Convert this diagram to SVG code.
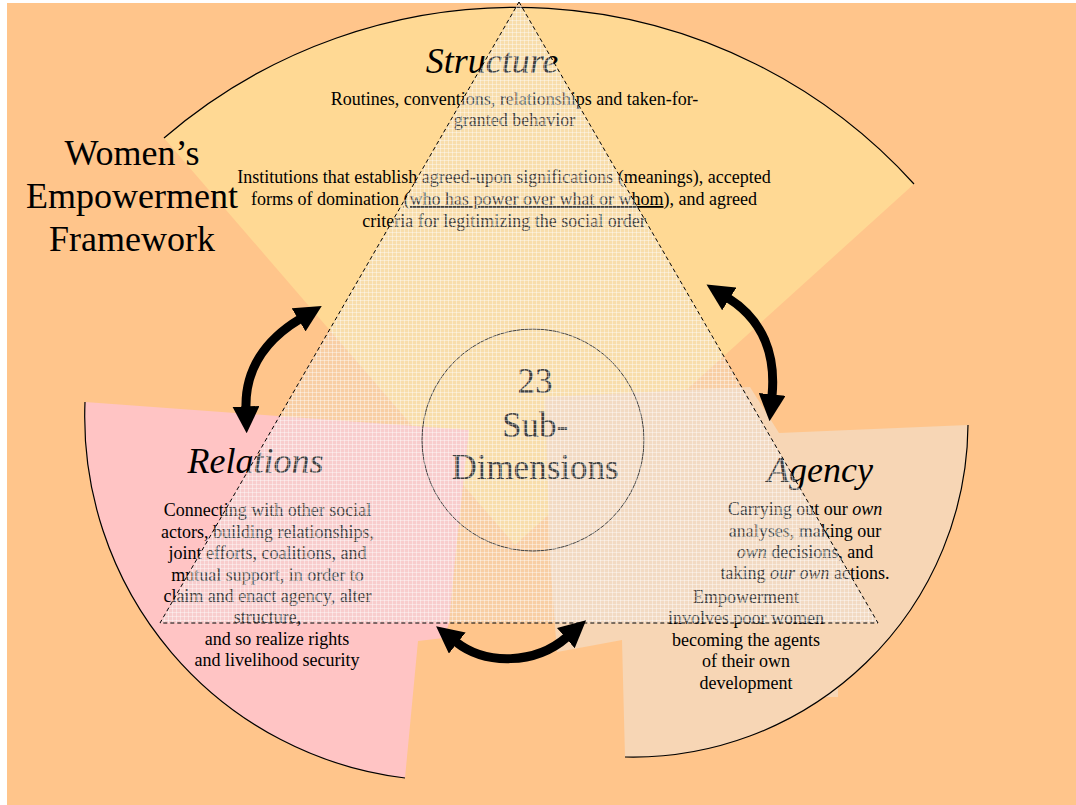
<svg xmlns="http://www.w3.org/2000/svg" width="1076" height="805" viewBox="0 0 1076 805">
  <defs>
    <style>
      text { font-family: 'Liberation Serif', 'DejaVu Serif', serif; fill: #000; }
      .head { font-size: 36px; font-style: italic; text-anchor: middle; }
      .big { font-size: 36px; text-anchor: middle; }
      .body { font-size: 18px; text-anchor: middle; }
      .it { font-style: italic; }
      .rim { fill: none; stroke: #000; stroke-width: 1.2; }
      .twoway { fill: none; stroke: #000; stroke-width: 9; marker-start: url(#head); marker-end: url(#head); }
    </style>
    <marker id="head" viewBox="0 0 10 10" refX="0.6" refY="5" markerWidth="3" markerHeight="3" orient="auto-start-reverse" markerUnits="strokeWidth">
      <path d="M0,0 L10,5 L0,10 Z" fill="#000"/>
    </marker>
    <pattern id="mesh" width="4" height="4" patternUnits="userSpaceOnUse">
      <rect width="4" height="4" fill="#E6E6E6" fill-opacity="0.28"/>
      <path d="M0,0.5H4M0.5,0V4" stroke="#FFFFFF" stroke-opacity="0.4" stroke-width="1"/>
    </pattern>
  </defs>

  <!-- page -->
  <rect x="0" y="0" width="1076" height="805" fill="#FFFFFF"/>
  <rect x="7" y="3" width="1069" height="802" fill="#FFC58B"/>

  <!-- Structure sector -->
  <g id="structure">
    <path d="M515,545 L164,138 A538,538 0 0,1 914,184 Z" fill="#FFD994"/>
    <path class="rim" d="M164,138 A538,538 0 0,1 914,184"/>
  </g>

  <!-- Relations sector -->
  <g id="relations">
    <path d="M469,430 L85,402 A364,364 0 0,0 405,778 L418,641 L444,638 L449,623 L455,560 Z" fill="#FFC4C4"/>
    <path class="rim" d="M85,402 A364,364 0 0,0 405,778"/>
  </g>

  <!-- Agency sector -->
  <g id="agency">
    <path d="M545,397 L750,387 L779,433 L968,425 A335,335 0 0,1 625,757 L622,640 Q590,646 557,652 L550,560 Z" fill="#F7D6B5"/>
    <rect x="655" y="588" width="183" height="109" fill="#F7D6B5"/>
    <path class="rim" d="M968,425 A335,335 0 0,1 625,757"/>
  </g>

  <!-- framework title -->
  <g id="title" font-family="Liberation Serif, serif">
    <text class="big" x="132" y="165">Women’s</text>
    <text class="big" x="132" y="208">Empowerment</text>
    <text class="big" x="132" y="251">Framework</text>
  </g>

  <!-- Structure texts -->
  <g id="structure-text">
    <text class="head" x="492" y="73">Structure</text>
    <text class="body" x="514.5" y="105">Routines, conventions, relationships and taken-for-</text>
    <text class="body" x="514.5" y="126">granted behavior</text>
    <text class="body" x="504" y="183">Institutions that establish agreed-upon significations (meanings), accepted</text>
    <text class="body" x="504" y="205">forms of domination <tspan text-decoration="underline">(who has power over what or whom</tspan>), and agreed</text>
    <text class="body" x="504" y="226.5">criteria for legitimizing the social order</text>
  </g>

  <!-- Relations texts -->
  <g id="relations-text">
    <text class="head" x="255.5" y="473">Relations</text>
    <text class="body" x="267.5" y="516">Connecting with other social</text>
    <text class="body" x="267.5" y="537.5">actors, building relationships,</text>
    <text class="body" x="267.5" y="559">joint efforts, coalitions, and</text>
    <text class="body" x="267.5" y="580.5">mutual support, in order to</text>
    <text class="body" x="267.5" y="602">claim and enact agency, alter</text>
    <text class="body" x="267.5" y="623">structure,</text>
    <text class="body" x="277" y="645">and so realize rights</text>
    <text class="body" x="277" y="666">and livelihood security</text>
  </g>

  <!-- Agency texts -->
  <g id="agency-text">
    <text class="head" x="820" y="482">Agency</text>
    <text class="body" x="805" y="515">Carrying out our <tspan class="it">own</tspan></text>
    <text class="body" x="805" y="536.5">analyses, making our</text>
    <text class="body" x="805" y="558"><tspan class="it">own</tspan> decisions, and</text>
    <text class="body" x="805" y="579">taking <tspan class="it">our own</tspan> actions.</text>
    <text class="body" x="746" y="602.5">Empowerment</text>
    <text class="body" x="746" y="623.5">involves poor women</text>
    <text class="body" x="746" y="645.5">becoming the agents</text>
    <text class="body" x="746" y="667">of their own</text>
    <text class="body" x="746" y="689">development</text>
  </g>

  <!-- central hub -->
  <g id="hub">
    <circle cx="533" cy="440" r="111" fill="none" stroke="#000" stroke-width="1"/>
    <text x="535" y="393" font-size="35" text-anchor="middle">23</text>
    <text x="535" y="436.5" font-size="35" text-anchor="middle">Sub-</text>
    <text x="535" y="478.5" font-size="35" text-anchor="middle">Dimensions</text>
  </g>

  <!-- translucent triangle laid over the sectors -->
  <g id="triangle">
    <path d="M519,2 L878,623 L160,623 Z" fill="url(#mesh)"/>
    <path d="M519,2 L878,623 L160,623 Z" fill="none" stroke="#000" stroke-width="1" stroke-dasharray="4,3"/>
  </g>

  <!-- two-way arrows between the dimensions -->
  <g id="connectors">
    <path class="twoway" d="M300,319 C265,340 245,370 246,408"/>
    <path class="twoway" d="M728,298 C763,320 776,355 772,396"/>
    <path class="twoway" d="M456,642 C485,665 535,665 567,637"/>
  </g>
</svg>
